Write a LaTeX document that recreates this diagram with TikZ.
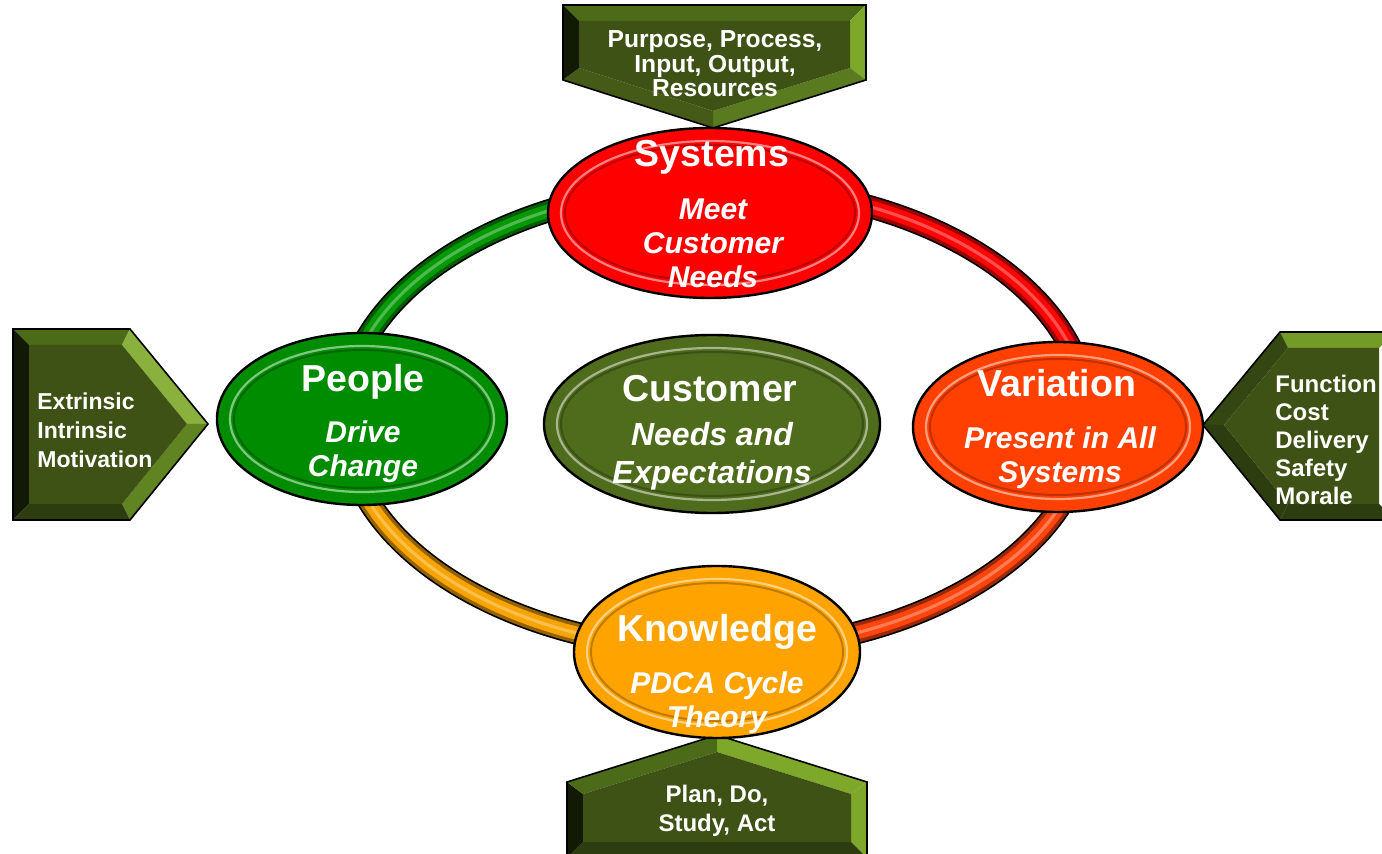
\documentclass[tikz,border=0pt]{standalone}
\usepackage{fontspec}
\setmainfont{Liberation Sans}
\usetikzlibrary{calc,shapes.geometric}
\definecolor{sysred}{rgb}{1.00,0.00,0.00}
\definecolor{peoplegreen}{rgb}{0.00,0.55,0.00}
\definecolor{custolive}{rgb}{0.31,0.42,0.11}
\definecolor{varorange}{rgb}{1.00,0.25,0.00}
\definecolor{knowgold}{rgb}{1.00,0.64,0.00}
\definecolor{ringgreen}{rgb}{0.02,0.60,0.02}
\definecolor{ringred}{rgb}{1.00,0.02,0.02}
\definecolor{ringorange}{rgb}{1.00,0.27,0.05}
\definecolor{ringgold}{rgb}{0.97,0.64,0.00}
\definecolor{tagcore}{rgb}{0.24,0.32,0.08}
\definecolor{tagtop}{rgb}{0.30,0.42,0.10}
\definecolor{taglight}{rgb}{0.49,0.66,0.16}
\definecolor{tagmid}{rgb}{0.35,0.48,0.12}
\definecolor{tagshade}{rgb}{0.18,0.24,0.06}
\definecolor{tagdark}{rgb}{0.07,0.10,0.02}
\tikzset{
  orb/.style={
    ellipse,
    draw=black,
    line width=1.2pt,
    inner sep=0pt
  },
  rimhi/.style={
    draw=#1!50!white,
    line width=1.1pt
  },
  rimlo/.style={
    draw=#1!60!black,
    line width=1pt,
    opacity=.6
  },
  orbtitle/.style={
    anchor=base,
    text=white,
    inner sep=0pt,
    font=\bfseries\fontsize{18.75}{20}\selectfont
  },
  orbnote/.style={
    anchor=base,
    text=white,
    align=center,
    inner sep=0pt,
    font=\bfseries\itshape\fontsize{15}{17}\selectfont
  },
  tagtext/.style={
    anchor=base,
    text=white,
    inner sep=0pt,
    font=\bfseries\fontsize{12}{14.5}\selectfont
  },
  tube/.style={
    line width=#1
  }
}

\begin{document}
\begin{tikzpicture}[x=0.5pt,y=-0.5pt]
\useasboundingbox (0,0) rectangle (1382,854);
\fill[white] (0,0) rectangle (1382,854);

% ring behind the five ellipses
\coordinate (hub) at (716,418);
\foreach \col/\from/\to in {ringorange/0/90, ringgold/90/180, ringgreen/180/270, ringred/270/360}{
  \draw[black,tube=11.5pt] ($(hub)+({372*cos(\from)},{232*sin(\from)})$)
    arc[start angle=\from, end angle=\to, x radius=372, y radius=232];
  \draw[\col!60!black,tube=9.8pt] ($(hub)+({372*cos(\from)},{232*sin(\from)})$)
    arc[start angle=\from, end angle=\to, x radius=372, y radius=232];
  \draw[\col,tube=6.5pt] ($(hub)+({372*cos(\from)},{232*sin(\from)})$)
    arc[start angle=\from, end angle=\to, x radius=372, y radius=232];
  \draw[\col!70!white,tube=1.6pt] ($(hub)+({372*cos(\from)},{232*sin(\from)})$)
    arc[start angle=\from, end angle=\to, x radius=372, y radius=232];
}

% top tag
\fill[tagtop] (563,5) -- (866,5) -- (850,21) -- (579,21) -- cycle;
\fill[taglight] (866,5) -- (866,80) -- (850,68) -- (850,21) -- cycle;
\fill[tagmid] (866,80) -- (713,128) -- (713,111) -- (850,68) -- cycle;
\fill[tagcore!90!taglight] (713,128) -- (563,80) -- (579,68) -- (713,111) -- cycle;
\fill[tagdark] (563,80) -- (563,5) -- (579,21) -- (579,68) -- cycle;
\fill[tagcore] (579,21) -- (850,21) -- (850,68) -- (713,111) -- (579,68) -- cycle;
\draw[black,line width=.8pt,line join=miter] (563,5) -- (866,5) -- (866,80) -- (713,128) -- (563,80) -- cycle;

% left tag
\fill[tagtop] (13,329) -- (130,329) -- (122,345) -- (29,345) -- cycle;
\fill[taglight!90!white] (130,329) -- (208,424) -- (187,424) -- (122,345) -- cycle;
\fill[tagmid!80!taglight] (208,424) -- (130,520) -- (122,504) -- (187,424) -- cycle;
\fill[tagshade] (130,520) -- (13,520) -- (29,504) -- (122,504) -- cycle;
\fill[tagdark] (13,520) -- (13,329) -- (29,345) -- (29,504) -- cycle;
\fill[tagcore] (29,345) -- (122,345) -- (187,424) -- (122,504) -- (29,504) -- cycle;
\draw[black,line width=.8pt,line join=miter] (13,329) -- (130,329) -- (208,424) -- (130,520) -- (13,520) -- cycle;

% right tag
\fill[taglight!80!tagtop] (1280,332) -- (1395,332) -- (1379,348) -- (1288,348) -- cycle;
\fill[tagshade!80!tagtop] (1203,425) -- (1280,332) -- (1288,348) -- (1224,425) -- cycle;
\fill[tagshade] (1280,520) -- (1203,425) -- (1224,425) -- (1288,504) -- cycle;
\fill[tagshade] (1395,520) -- (1280,520) -- (1288,504) -- (1379,504) -- cycle;
\fill[tagcore] (1288,348) -- (1379,348) -- (1379,504) -- (1288,504) -- (1224,425) -- cycle;
\draw[black,line width=.8pt,line join=miter] (1280,332) -- (1395,332) -- (1395,520) -- (1280,520) -- (1203,425) -- cycle;

% bottom tag
\fill[taglight] (717,735) -- (867,782) -- (851,794) -- (717,752) -- cycle;
\fill[taglight] (867,782) -- (867,858) -- (851,842) -- (851,794) -- cycle;
\fill[tagshade] (867,858) -- (567,858) -- (583,842) -- (851,842) -- cycle;
\fill[tagdark] (567,858) -- (567,782) -- (583,794) -- (583,842) -- cycle;
\fill[tagtop] (567,782) -- (717,735) -- (717,752) -- (583,794) -- cycle;
\fill[tagcore] (717,752) -- (851,794) -- (851,842) -- (583,842) -- (583,794) -- cycle;
\draw[black,line width=.8pt,line join=miter] (717,735) -- (867,782) -- (867,858) -- (567,858) -- (567,782) -- cycle;

% ellipses
\node[orb,fill=sysred,minimum width=162pt,minimum height=85pt] (sys) at (710,213) {};
\node[orb,fill=peoplegreen,minimum width=145pt,minimum height=86pt] (ppl) at (362,419) {};
\node[orb,fill=custolive,minimum width=168pt,minimum height=89pt] (cust) at (712,424) {};
\node[orb,fill=varorange,minimum width=145pt,minimum height=85pt] (var) at (1058,427) {};
\node[orb,fill=knowgold,minimum width=143pt,minimum height=86pt] (know) at (717,652) {};
\draw[rimhi=sysred] (sys.center) ellipse[x radius=149, y radius=72];
\draw[rimlo=sysred] (sys.center) ellipse[x radius=145, y radius=68];
\draw[rimhi=peoplegreen] (ppl.center) ellipse[x radius=132, y radius=73];
\draw[rimlo=peoplegreen] (ppl.center) ellipse[x radius=128, y radius=69];
\draw[rimhi=custolive] (cust.center) ellipse[x radius=155, y radius=76];
\draw[rimlo=custolive] (cust.center) ellipse[x radius=151, y radius=72];
\draw[rimhi=varorange] (var.center) ellipse[x radius=132, y radius=72];
\draw[rimlo=varorange] (var.center) ellipse[x radius=128, y radius=68];
\draw[rimhi=knowgold] (know.center) ellipse[x radius=130, y radius=73];
\draw[rimlo=knowgold] (know.center) ellipse[x radius=126, y radius=69];

% ellipse texts (multi-line ones sit on their last baseline)
\node[orbtitle] (sys-t) at (712,167) {Systems};
\node[orbnote] (sys-s) at (713,288) {Meet\\Customer\\Needs};
\node[orbtitle] (ppl-t) at (363,392) {People};
\node[orbnote] (ppl-s) at (363,477) {Drive\\Change};
\node[orbtitle] (cust-t) at (710,402) {Customer};
\node[orbnote,font=\bfseries\itshape\fontsize{16}{19}\selectfont] (cust-s) at (712,484) {Needs and\\Expectations};
\node[orbtitle] (var-t) at (1057,397) {Variation};
\node[orbnote] (var-s) at (1060,483) {Present in All\\Systems};
\node[orbtitle] (know-t) at (717,642) {Knowledge};
\node[orbnote] (know-s) at (717,728) {PDCA Cycle\\Theory};

% tag texts
\node[tagtext,align=center,font=\bfseries\fontsize{12.3}{12.3}\selectfont] (purpose) at (715,97) {Purpose, Process,\\Input, Output,\\Resources};
\node[tagtext,align=left,anchor=base west,font=\bfseries\fontsize{11.5}{14.5}\selectfont] (motive) at (37,468) {Extrinsic\\Intrinsic\\Motivation};
\node[tagtext,align=left,anchor=base west,font=\bfseries\fontsize{12}{14.1}\selectfont] (measures) at (1275,505) {Function\\Cost\\Delivery\\Safety\\Morale};
\node[tagtext,align=center] (pdsa) at (717,832) {Plan, Do,\\Study, Act};
\end{tikzpicture}
\end{document}
